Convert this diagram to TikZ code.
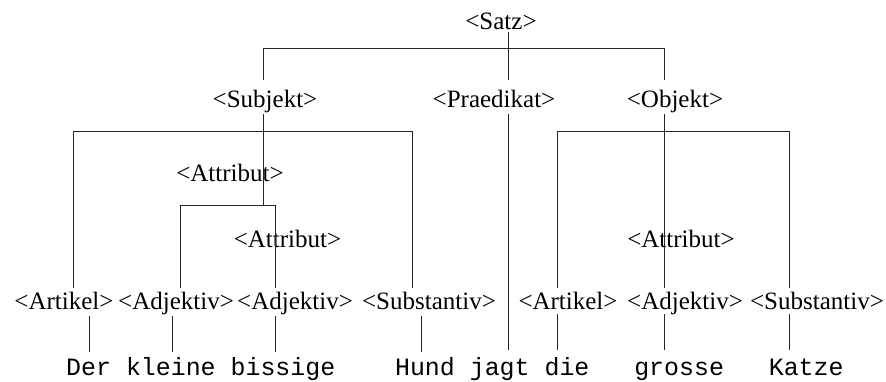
\documentclass[tikz,border=0pt]{standalone}
\usepackage{fontspec}
\setmainfont{Liberation Serif}
\setmonofont{Liberation Mono}
\begin{document}
\begin{tikzpicture}[x=1pt,y=-1pt,
  lab/.style={font=\fontsize{25}{30}\selectfont, anchor=base, inner sep=0pt},
  word/.style={font=\fontsize{24.9}{30}\selectfont\ttfamily, anchor=base west, inner sep=0pt},
  edge/.style={line width=0.9pt, draw=black!85}]
\useasboundingbox (0,0) rectangle (886,381);
% labels
\node[lab] (satz) at (501,29) {<Satz>};
\node[lab] (subj) at (265,107) {<Subjekt>};
\node[lab] (praed) at (494,107) {<Praedikat>};
\node[lab] (obj) at (675,107) {<Objekt>};
\node[lab] (attr1) at (230,181) {<Attribut>};
\node[lab] (attr2) at (287.5,247) {<Attribut>};
\node[lab] (attr3) at (681,247) {<Attribut>};
\node[lab] (art1) at (64,309) {<Artikel>};
\node[lab] (adj1) at (176,309) {<Adjektiv>};
\node[lab] (adj2) at (295,309) {<Adjektiv>};
\node[lab] (sub1) at (429,309) {<Substantiv>};
\node[lab] (art2) at (568,309) {<Artikel>};
\node[lab] (adj3) at (685,309) {<Adjektiv>};
\node[lab] (sub2) at (817,309) {<Substantiv>};
% words
\node[word] (w1) at (66,375) {Der};
\node[word] (w2) at (125.8,375) {kleine};
\node[word] (w3) at (230.45,375) {bissige};
\node[word] (w4) at (394.9,375) {Hund};
\node[word] (w5) at (469.65,375) {jagt};
\node[word] (w6) at (544.4,375) {die};
\node[word] (w7) at (634.1,375) {grosse};
\node[word] (w8) at (768.65,375) {Katze};
% junction points
\coordinate (satzS) at (508,32);
\coordinate (praedN) at (508,80);
\coordinate (praedS) at (508,114);
\coordinate (jagtN) at (508,350);
\coordinate (barL) at (263,48);
\coordinate (barR) at (664,48);
\coordinate (subjN) at (263,80);
\coordinate (objN) at (664,80);
\coordinate (subjS) at (263,114);
\coordinate (attrJ) at (263,205);
\coordinate (sbL) at (73,131);
\coordinate (sbR) at (412,131);
\coordinate (art1N) at (73,288);
\coordinate (sub1N) at (412,288);
\coordinate (abL) at (180.7,205);
\coordinate (abR) at (275.7,205);
\coordinate (adj1N) at (180.7,288);
\coordinate (adj2N) at (275.7,288);
\coordinate (objS) at (664,114);
\coordinate (adj3N) at (664,288);
\coordinate (obL) at (557.7,131);
\coordinate (obR) at (789,131);
\coordinate (art2N) at (557.7,288);
\coordinate (sub2N) at (789,288);
% bottom stems
\coordinate (art1S) at (89,316);   \coordinate (w1N) at (89,352);
\coordinate (adj1S) at (172,316);  \coordinate (w2N) at (172,352);
\coordinate (adj2S) at (275.7,316);\coordinate (w3N) at (275.7,352);
\coordinate (sub1S) at (421,316);  \coordinate (w4N) at (421,352);
\coordinate (art2S) at (557.7,314);\coordinate (w6N) at (557.7,350);
\coordinate (adj3S) at (664,314);  \coordinate (w7N) at (664,350);
\coordinate (sub2S) at (789,314);  \coordinate (w8N) at (789,350);
% edges
\draw[edge] (satzS) -- (praedN);
\draw[edge] (subjN) -- (barL) -- (barR) -- (objN);
\draw[edge] (praedS) -- (jagtN);
\draw[edge] (subjS) -- (attrJ);
\draw[edge] (art1N) -- (sbL) -- (sbR) -- (sub1N);
\draw[edge] (adj1N) -- (abL) -- (abR) -- (adj2N);
\draw[edge] (objS) -- (adj3N);
\draw[edge] (art2N) -- (obL) -- (obR) -- (sub2N);
\draw[edge] (art1S) -- (w1N);
\draw[edge] (adj1S) -- (w2N);
\draw[edge] (adj2S) -- (w3N);
\draw[edge] (sub1S) -- (w4N);
\draw[edge] (art2S) -- (w6N);
\draw[edge] (adj3S) -- (w7N);
\draw[edge] (sub2S) -- (w8N);
\end{tikzpicture}
\end{document}
